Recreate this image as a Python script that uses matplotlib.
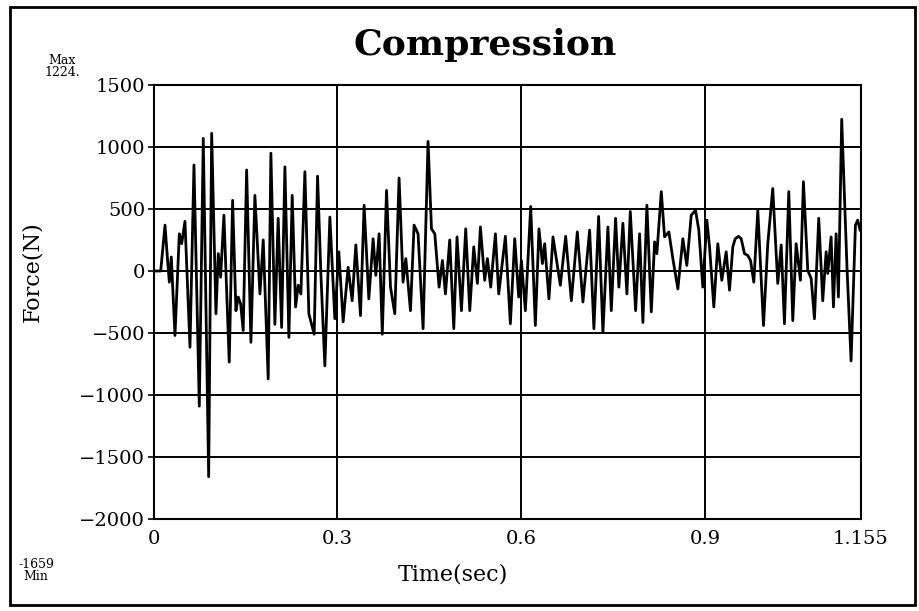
import matplotlib
matplotlib.use("Agg")
import matplotlib.pyplot as plt
from matplotlib.patches import Rectangle

time_s = [0.0, 0.0116, 0.0186, 0.0224, 0.0257, 0.0289, 0.0349, 0.0420, 0.0458, 0.0512,
          0.0594, 0.0659, 0.0746, 0.0811, 0.0899, 0.0948, 0.1018, 0.1056, 0.1094, 0.1148,
          0.1235, 0.1290, 0.1344, 0.1382, 0.1421, 0.1463, 0.1519, 0.1589, 0.1654, 0.1736,
          0.1790, 0.1871, 0.1915, 0.1980, 0.2034, 0.2090, 0.2144, 0.2209, 0.2263, 0.2318,
          0.2361, 0.2405, 0.2470, 0.2535, 0.2622, 0.2677, 0.2731, 0.2796, 0.2878, 0.2959,
          0.3024, 0.3095, 0.3176, 0.3242, 0.3302, 0.3378, 0.3437, 0.3514, 0.3584, 0.3628,
          0.3682, 0.3734, 0.3803, 0.3868, 0.3938, 0.4008, 0.4073, 0.4118, 0.4194, 0.4253,
          0.4318, 0.4400, 0.4481, 0.4537, 0.4591, 0.4661, 0.4716, 0.4765, 0.4835, 0.4901,
          0.4954, 0.5026, 0.5096, 0.5162, 0.5227, 0.5287, 0.5336, 0.5406, 0.5450, 0.5504,
          0.5581, 0.5635, 0.5744, 0.5825, 0.5896, 0.5961, 0.6005, 0.6070, 0.6157, 0.6233,
          0.6292, 0.6348, 0.6385, 0.6455, 0.6521, 0.6641, 0.6728, 0.6821, 0.6918, 0.7010,
          0.7119, 0.7189, 0.7266, 0.7336, 0.7418, 0.7473, 0.7543, 0.7597, 0.7662, 0.7728,
          0.7783, 0.7870, 0.7935, 0.7989, 0.8054, 0.8126, 0.8180, 0.8217, 0.8289, 0.8343,
          0.8413, 0.8478, 0.8560, 0.8641, 0.8706, 0.8778, 0.8848, 0.8902, 0.8967, 0.9033,
          0.9077, 0.9147, 0.9212, 0.9277, 0.9349, 0.9403, 0.9457, 0.9496, 0.9550, 0.9594,
          0.9648, 0.9702, 0.9746, 0.9800, 0.9865, 0.9958, 1.0028, 1.0109, 1.0191, 1.0247,
          1.0300, 1.0371, 1.0436, 1.0491, 1.0561, 1.0610, 1.0681, 1.0736, 1.0790, 1.0860,
          1.0925, 1.0981, 1.1007, 1.1062, 1.1100, 1.1144, 1.1181, 1.1235, 1.1323, 1.1388,
          1.1459, 1.1496, 1.1535]
force_n = [0, 0, 370, 113, -90, 113, -520, 300, 220, 400,
           -615, 855, -1090, 1070, -1659, 1110, -345, 140, -50, 450,
           -735, 570, -320, -210, -265, -480, 815, -575, 610, -185,
           250, -870, 950, -430, 425, -455, 840, -535, 610, -290,
           -115, -185, 800, -345, -510, 765, -20, -765, 435, -385,
           155, -410, 30, -240, 210, -360, 530, -225, 260, -35,
           300, -510, 650, -130, -345, 750, -90, 100, -320, 370,
           300, -465, 1045, 340, 300, -130, 85, -185, 250, -465,
           275, -320, 340, -320, 195, -100, 355, -75, 100, -130,
           300, -185, 280, -425, 260, -210, 85, -320, 520, -440,
           340, 60, 220, -225, 275, -115, 280, -240, 315, -250,
           330, -465, 440, -495, 355, -320, 425, -130, 385, -185,
           480, -320, 300, -415, 530, -330, 235, 140, 640, 275,
           315, 100, -145, 260, 45, 450, 490, 330, -130, 410,
           195, -290, 220, -75, 155, -155, 195, 260, 280, 260,
           140, 125, 85, -90, 490, -440, 220, 665, -100, 210,
           -425, 640, -400, 220, -75, 720, 5, -60, -385, 425,
           -240, 155, -20, 275, -290, 300, -210, 1224, 5, -725,
           370, 410, 330]

x_ticks = [0, 0.3, 0.6, 0.9, 1.155]
x_tick_labels = ["0", "0.3", "0.6", "0.9", "1.155"]
y_ticks = [-2000, -1500, -1000, -500, 0, 500, 1000, 1500]
max_label = "Max\n1224."
min_label = "-1659\nMin"

serif = "DejaVu Serif"

fig = plt.figure(figsize=(9.19, 6.11), dpi=100)
ax = fig.add_axes([153.6 / 919, 1 - 519 / 611, (861 - 153.6) / 919, (519 - 85) / 611])

ax.plot(time_s, force_n, color="black", linewidth=2.0, zorder=3)

ax.set_xlim(0, 1.155)
ax.set_ylim(-2000, 1500)
ax.set_xticks(x_ticks)
ax.set_xticklabels(x_tick_labels, fontfamily=serif, fontsize=14)
ax.set_yticks(y_ticks)
ax.set_yticklabels([str(v).replace("-", "\u2212") for v in y_ticks],
                   fontfamily=serif, fontsize=14)
ax.tick_params(axis="y", direction="out", length=4, width=1.2, pad=2)
ax.tick_params(axis="x", length=0, pad=8)
ax.grid(True, color="black", linewidth=1.4)
for s in ax.spines.values():
    s.set_linewidth(1.5)
    s.set_color("black")

fig.text(32 / 919, 1 - 272 / 611, "Force(N)", fontfamily=serif, fontsize=16,
         rotation=90, ha="center", va="center")
fig.text(453 / 919, 1 - 575 / 611, "Time(sec)", fontfamily=serif, fontsize=16,
         ha="center", va="center")
fig.text(485 / 919, 1 - 45 / 611, "Compression", fontfamily=serif, fontsize=26,
         fontweight="bold", ha="center", va="center")
fig.text(62 / 919, 1 - 66 / 611, max_label, fontfamily=serif, fontsize=9,
         ha="center", va="center", linespacing=0.9)
fig.text(36 / 919, 1 - 570 / 611, min_label, fontfamily=serif, fontsize=9,
         ha="center", va="center", linespacing=0.9)

# frame around the whole figure
fig.patches.append(Rectangle((10 / 919, 1 - 605 / 611), 905 / 919, 598 / 611,
                             transform=fig.transFigure, fill=False,
                             edgecolor="black", linewidth=2))

fig.savefig("out.png", dpi=100)
